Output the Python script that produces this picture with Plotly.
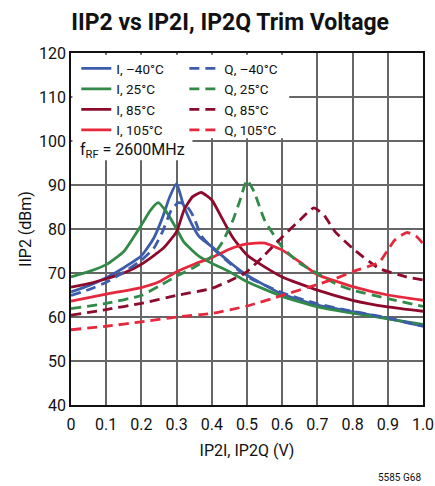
import plotly.graph_objects as go

# ---- data ----
i_m40_x = [0, 0.05, 0.1, 0.15, 0.2, 0.235, 0.26, 0.28, 0.3, 0.318, 0.342, 0.365, 0.4, 0.45, 0.5, 0.6, 0.7, 0.8, 0.9, 1.0]
i_m40_y = [65.7, 67.1, 68.9, 71.2, 73.9, 77.9, 82.6, 87.2, 90.3, 85.8, 81.3, 78.2, 76.0, 72.5, 69.5, 65.2, 62.7, 61.2, 59.7, 57.9]

q_m40_x = [0, 0.05, 0.1, 0.15, 0.2, 0.235, 0.26, 0.285, 0.305, 0.325, 0.347, 0.37, 0.4, 0.45, 0.5, 0.6, 0.7, 0.8, 0.9, 1.0]
q_m40_y = [64.9, 66.2, 67.9, 70.2, 72.9, 75.6, 79.4, 84.3, 86.0, 85.6, 83.0, 78.5, 75.8, 72.3, 69.2, 65.5, 63.0, 61.3, 59.8, 57.9]

i_25_x = [0, 0.05, 0.1, 0.15, 0.175, 0.2, 0.225, 0.248, 0.27, 0.3, 0.321, 0.365, 0.4, 0.45, 0.5, 0.6, 0.7, 0.8, 0.9, 1.0]
i_25_y = [69.1, 70.3, 71.9, 74.9, 77.8, 80.9, 84.2, 86.0, 84.0, 80.0, 77.0, 73.7, 72.2, 70.3, 68.0, 64.7, 62.3, 60.9, 59.6, 58.3]

q_25_x = [0, 0.1, 0.2, 0.25, 0.3, 0.35, 0.4, 0.43, 0.46, 0.48, 0.5, 0.52, 0.55, 0.6, 0.65, 0.7, 0.75, 0.8, 0.9, 1.0]
q_25_y = [61.9, 63.1, 64.9, 67.0, 69.3, 71.3, 73.8, 77.0, 82.0, 86.5, 91.1, 88.5, 82.0, 75.9, 72.2, 69.9, 67.6, 66.1, 64.2, 62.4]

i_85_x = [0, 0.05, 0.1, 0.15, 0.2, 0.262, 0.3, 0.321, 0.345, 0.37, 0.4, 0.43, 0.46, 0.5, 0.55, 0.6, 0.7, 0.8, 0.9, 1.0]
i_85_y = [66.8, 67.6, 68.7, 70.0, 72.0, 75.6, 79.4, 84.3, 87.3, 88.3, 86.6, 82.3, 78.0, 74.1, 71.4, 69.1, 66.1, 63.8, 62.3, 61.3]

q_85_x = [0, 0.1, 0.2, 0.3, 0.4, 0.45, 0.5, 0.55, 0.6, 0.65, 0.69, 0.72, 0.75, 0.8, 0.876, 0.95, 1.0]
q_85_y = [60.4, 61.7, 63.1, 64.9, 66.5, 68.2, 70.3, 74.1, 78.2, 82.0, 84.8, 83.0, 79.4, 75.6, 71.0, 69.2, 68.4]

i_105_x = [0, 0.1, 0.2, 0.25, 0.3, 0.35, 0.4, 0.45, 0.5, 0.55, 0.6, 0.65, 0.7, 0.75, 0.8, 0.9, 1.0]
i_105_y = [63.6, 65.2, 66.7, 68.0, 70.3, 72.0, 73.5, 75.4, 76.6, 76.8, 75.2, 72.5, 69.6, 68.2, 66.9, 65.0, 63.8]

q_105_x = [0, 0.1, 0.2, 0.3, 0.4, 0.5, 0.6, 0.7, 0.75, 0.8, 0.876, 0.9, 0.92, 0.954, 0.98, 1.0]
q_105_y = [57.1, 57.9, 58.9, 60.0, 60.8, 62.5, 64.9, 67.4, 68.7, 70.3, 72.5, 75.2, 77.5, 79.2, 78.4, 76.7]

x_ticks = [0, 0.1, 0.2, 0.3, 0.4, 0.5, 0.6, 0.7, 0.8, 0.9, 1.0]
x_tick_text = ["0", "0.1", "0.2", "0.3", "0.4", "0.5", "0.6", "0.7", "0.8", "0.9", "1.0"]
y_ticks = [40, 50, 60, 70, 80, 90, 100, 110, 120]

BLUE = "#3d5caa"
GREEN = "#318a48"
DRED = "#8c0a2c"
RED = "#e6283c"

FONT = "Roboto, Liberation Sans, sans-serif"
INK = "#111111"

series = [
    ("I, \u201340\u00b0C", i_m40_x, i_m40_y, BLUE, "solid", "legend"),
    ("I, 25\u00b0C", i_25_x, i_25_y, GREEN, "solid", "legend"),
    ("I, 85\u00b0C", i_85_x, i_85_y, DRED, "solid", "legend"),
    ("I, 105\u00b0C", i_105_x, i_105_y, RED, "solid", "legend"),
    ("Q, \u201340\u00b0C", q_m40_x, q_m40_y, BLUE, "dash", "legend2"),
    ("Q, 25\u00b0C", q_25_x, q_25_y, GREEN, "dash", "legend2"),
    ("Q, 85\u00b0C", q_85_x, q_85_y, DRED, "dash", "legend2"),
    ("Q, 105\u00b0C", q_105_x, q_105_y, RED, "dash", "legend2"),
]

fig = go.Figure()
for name, xs, ys, col, dash, lg in series:
    fig.add_trace(go.Scatter(
        x=xs, y=ys, mode="lines", name=name, legend=lg,
        line=dict(color=col, width=2.8, dash="10px,6px" if dash == "dash" else "solid",
                  shape="spline", smoothing=0.5),
    ))

legend_common = dict(
    bgcolor="rgba(0,0,0,0)", borderwidth=0,
    font=dict(family=FONT, size=13.5, color=INK),
    xanchor="left", yanchor="top", yref="paper", xref="paper",
    tracegroupgap=0, itemwidth=30, traceorder="normal",
)

axis_common = dict(
    showgrid=True, gridcolor="#666666", gridwidth=1.6,
    showline=True, linecolor=INK, linewidth=1.6, mirror=True,
    ticks="", zeroline=False, automargin=False,
    tickfont=dict(family=FONT, size=16, color=INK),
)

fig.update_layout(
    template="plotly",
    width=435, height=486,
    margin=dict(l=71, r=12, t=53, b=81),
    paper_bgcolor="white", plot_bgcolor="white",
    font=dict(family=FONT, size=16, color=INK),
    title=dict(text="<b>IIP2 vs IP2I, IP2Q Trim Voltage</b>", x=0.529, xanchor="center",
               y=0.955, yanchor="middle", font=dict(family=FONT, size=23, color=INK)),
    showlegend=True,
    legend=dict(x=0.015, y=1.0, **legend_common),
    legend2=dict(x=0.322, y=1.0, **legend_common),
    xaxis=dict(range=[0, 1.0], tickvals=x_ticks, ticktext=x_tick_text, ticklabelstandoff=4,
               title=dict(text="IP2I, IP2Q (V)", font=dict(family=FONT, size=16, color=INK), standoff=12),
               **axis_common),
    yaxis=dict(range=[40, 120], tickvals=y_ticks,
               title=dict(text="IIP2 (dBm)", font=dict(family=FONT, size=16, color=INK), standoff=3),
               **axis_common),
    shapes=[
        dict(type="rect", xref="x", yref="y", x0=0.004, x1=0.62, y0=100.6, y1=119.6,
             fillcolor="white", line=dict(width=0), layer="above"),
        dict(type="rect", xref="x", yref="y", x0=0.004, x1=0.345, y0=95.6, y1=101,
             fillcolor="white", line=dict(width=0), layer="above"),
    ],
    annotations=[
        dict(text="f<sub>RF</sub> = 2600MHz", xref="x", yref="y", x=0.02, y=97.8,
             xanchor="left", yanchor="middle", showarrow=False,
             font=dict(family=FONT, size=16, color=INK)),
        dict(text="5585 G68", xref="paper", yref="paper", x=1.0, y=-0.207,
             xanchor="right", yanchor="middle", showarrow=False,
             font=dict(family=FONT, size=10, color=INK)),
    ],
)

fig.write_html("out.html", config={"displayModeBar": False},
               post_script="document.body.style.margin='0';document.body.style.overflow='hidden';")
